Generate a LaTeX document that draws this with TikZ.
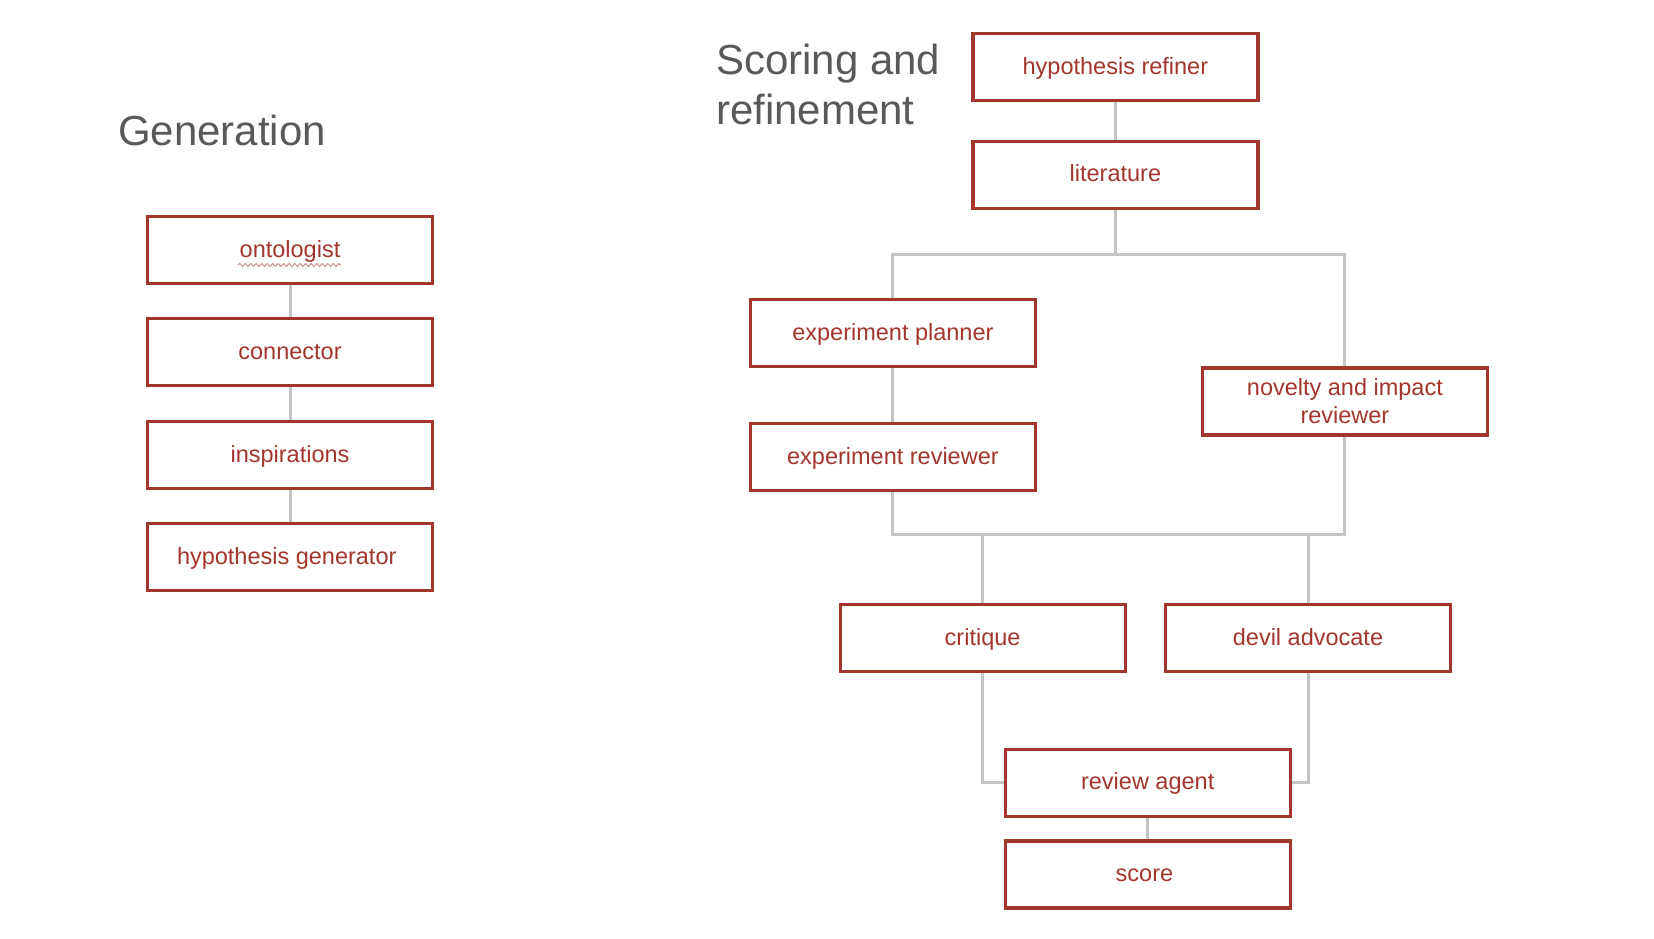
\documentclass[tikz,border=0pt]{standalone}
\usepackage{fontspec}
\setmainfont{Liberation Sans}
\usetikzlibrary{decorations.pathmorphing}
\definecolor{agentred}{HTML}{A3362C}
\definecolor{linkgray}{HTML}{C4C4C4}
\definecolor{titlegray}{HTML}{595959}
\tikzset{agent/.style={
  rectangle,
  draw=agentred,line width=3.2pt,
  text=agentred,align=center,
  font=\fontsize{23.5}{28}\selectfont,
  text height=19pt,text depth=5pt,
  minimum width=285pt,minimum height=67pt,inner sep=0pt}}
\tikzset{twoline/.style={text height=,text depth=}}
\tikzset{link/.style={draw=linkgray,line width=3pt}}
\tikzset{heading/.style={
  anchor=base west,inner sep=0pt,text=titlegray,
  font=\fontsize{42}{50}\selectfont}}

\begin{document}
\begin{tikzpicture}[x={(1pt,0pt)},y={(0pt,-1pt)}]
  \useasboundingbox (0,0) rectangle (1654,938);
  % titles
  \node[heading] (gen) at (118,145.6) {Generation};
  \node[heading,align=left,anchor=north west] (scr) at (716,44)
    {Scoring and\\refinement};
  % generation column
  \foreach \n/\p/\l in {
      ont/{(290,250)}/{ontologist},
      con/{(290,352)}/{connector},
      ins/{(290,455)}/{inspirations},
      gen/{(290,557)}/{hypothesis generator} }
    \node[agent] (\n) at \p {\l};
  \foreach \m/\n in {ont/con,con/ins,ins/gen}
    \draw[link] (\m) -- (\n);
  \draw[agentred!60,line width=0.9pt,
    decorate,decoration={snake,amplitude=1.5pt,segment length=5.5pt}]
    (238,265) -- (341,265);
  % scoring and refinement
  \foreach \n/\p/\l in {
      ref/{(1115.4,67)}/{hypothesis refiner},
      lit/{(1115.4,174.6)}/{literature},
      pln/{(892.9,333.3)}/{experiment planner},
      erv/{(892.9,457.3)}/{experiment reviewer},
      crt/{(982.6,638.2)}/{critique},
      dev/{(1308,638.2)}/{devil advocate},
      rva/{(1147.7,782.7)}/{review agent},
      sco/{(1147.7,874.5)}/{score} }
    \node[agent] (\n) at \p {\l};
  \node[agent,twoline] (nov) at (1344.9,401.5) {novelty and impact\\reviewer};
  \coordinate (bus1) at (1115.4,254.2);
  \coordinate (bus2) at (1100,534.8);
  \draw[link] (ref) -- (lit);
  \draw[link] (lit) -- (bus1);
  \draw[link] (pln.north) |- (bus1) -| (nov.north);
  \draw[link] (pln) -- (erv);
  \draw[link] (erv.south) |- (bus2) -| (nov.south);
  \draw[link] (crt.north) -- (crt.north |- bus2);
  \draw[link] (dev.north) -- (dev.north |- bus2);
  \draw[link] (crt.south) |- (rva.west);
  \draw[link] (dev.south) |- (rva.east);
  \draw[link] (rva) -- (sco);
\end{tikzpicture}
\end{document}
